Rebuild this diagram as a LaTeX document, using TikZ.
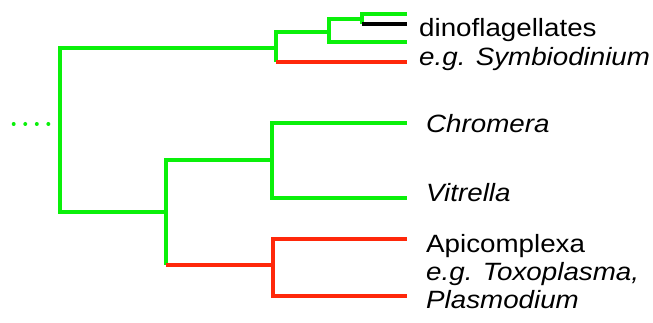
\documentclass[tikz,border=0pt]{standalone}
\usepackage{fontspec}
\setmainfont{Liberation Sans}[FakeStretch=1.11]
\usepackage{tikz}
\usetikzlibrary{positioning}
\definecolor{treegreen}{RGB}{10,240,10}
\definecolor{treered}{RGB}{255,40,10}
\tikzset{
  grn/.style={draw=treegreen,line width=3.8pt},
  rd/.style={draw=treered,line width=3.8pt},
  blk/.style={draw=black,line width=3.4pt},
  taxon/.style={inner sep=0pt,anchor=base west,font=\fontsize{25}{29}\selectfont},
}
\begin{document}
\begin{tikzpicture}[x=1pt,y=-1pt]
  \useasboundingbox (0,0) rectangle (653,323);

  \coordinate (stem) at (13.7,124);
  \coordinate (root) at (60,124);
  \coordinate (dinoclade) at (276,48);
  \coordinate (dino) at (329,32);
  \coordinate (dinotop) at (362,19);
  \coordinate (alv) at (166,212);
  \coordinate (chrom) at (272,160);
  \coordinate (apic) at (273,265);

  \coordinate (t1) at (407,14);
  \coordinate (t2) at (407,24);
  \coordinate (t3) at (407,42);
  \coordinate (t4) at (407,62);
  \coordinate (t5) at (407,123);
  \coordinate (t6) at (407,198);
  \coordinate (t7) at (407,239);
  \coordinate (t8) at (407,296);

  \node[taxon] (dinoLbl) at (419,37) {dinoflagellates};
  \node[taxon] (symLbl) at (419,66) {\itshape e.g. Symbiodinium};
  \node[taxon] (chromLbl) at (426,133) {\itshape Chromera};
  \node[taxon] (vitLbl) at (426,202) {\itshape Vitrella};
  \node[taxon] (apiLbl) at (426,252) {Apicomplexa};
  \node[taxon] (toxoLbl) at (426,280) {\itshape e.g. Toxoplasma,};
  \node[taxon] (plasLbl) at (426,308) {\itshape Plasmodium};

  \draw[treegreen,line width=4pt,line cap=round,dash pattern=on 0pt off 11.55pt] (stem) -- ++(35,0);

  \draw[grn] (root) |- (dinoclade);
  \draw[grn] (root) |- (alv);
  \draw[grn] (dinoclade) |- (dino);
  \draw[grn] (dinoclade) -- (dinoclade |- t4);
  \draw[rd] (dinoclade |- t4) -- (t4);
  \draw[grn] (dino) |- (dinotop);
  \draw[grn] (dino) |- (t3);
  \draw[grn] (dinotop) |- (t1);
  \draw[grn] (dinotop) -- (dinotop |- t2);
  \draw[blk] (dinotop |- t2) -- (t2);
  \draw[grn] (alv) |- (chrom);
  \draw[grn] (alv) -- (alv |- apic);
  \draw[rd] (alv |- apic) -- (apic);
  \draw[grn] (chrom) |- (t5);
  \draw[grn] (chrom) |- (t6);
  \draw[rd] (apic) |- (t7);
  \draw[rd] (apic) |- (t8);
\end{tikzpicture}
\end{document}
